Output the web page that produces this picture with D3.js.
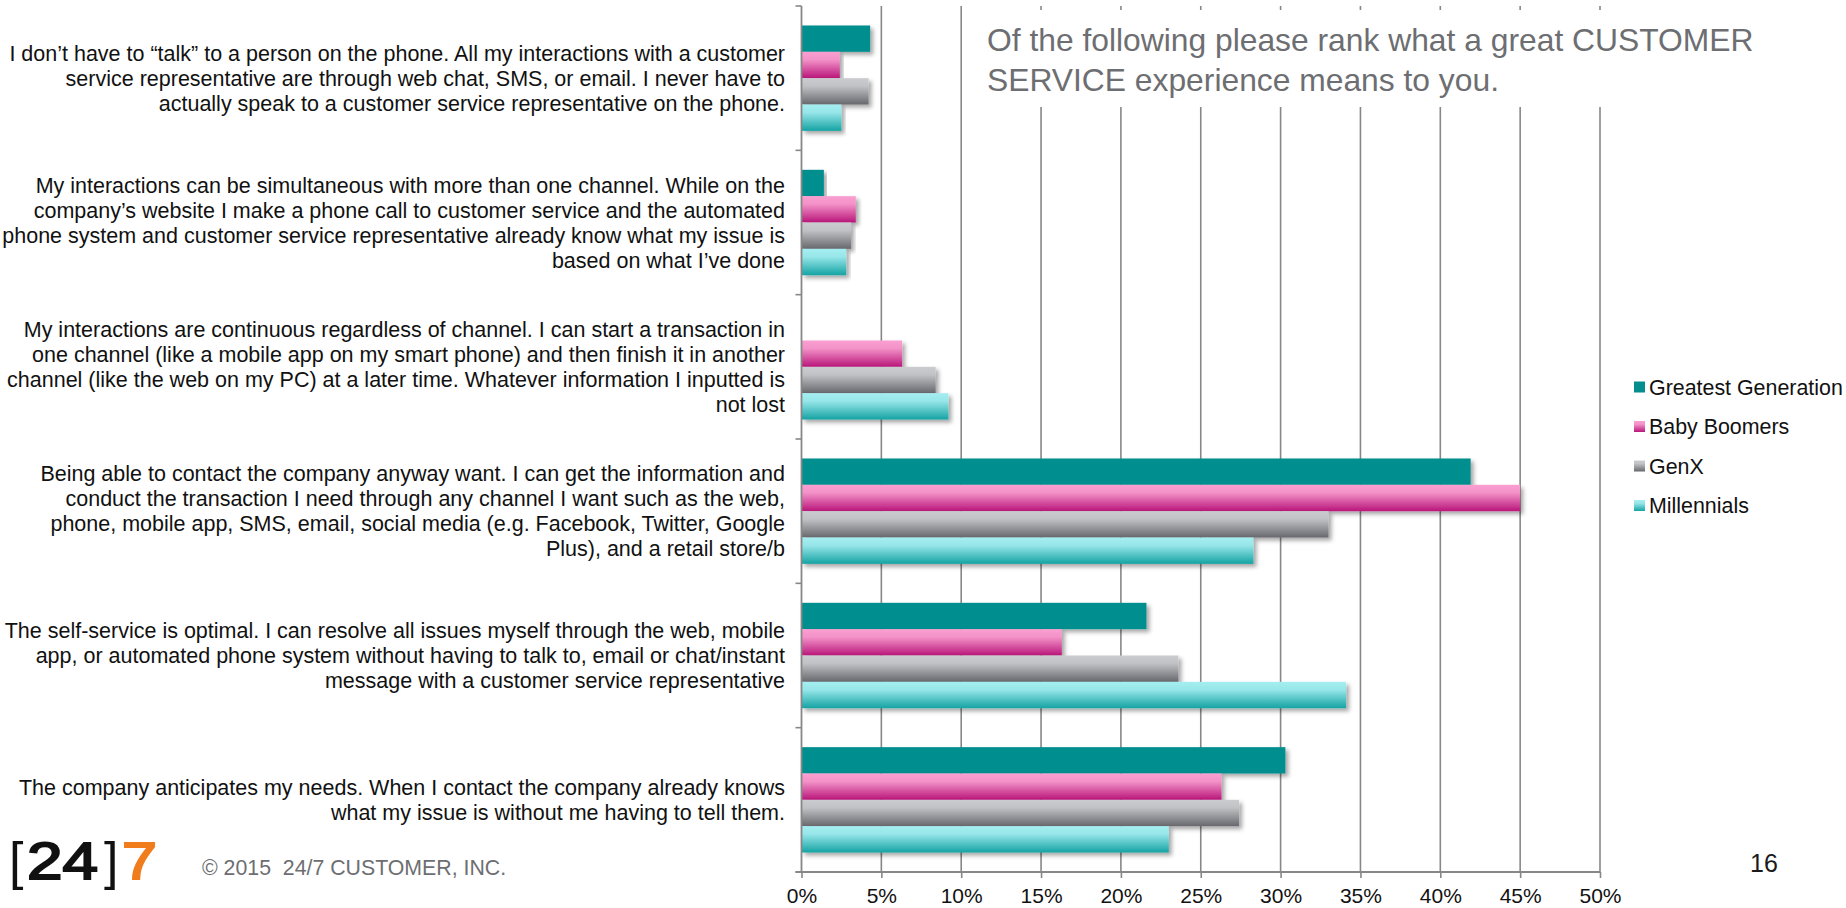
<!DOCTYPE html>
<html>
<head>
<meta charset="utf-8">
<script src="https://cdn.jsdelivr.net/npm/d3@7/dist/d3.min.js"></script>
<style>
  html, body { margin: 0; padding: 0; background: #ffffff; }
  svg { display: block; font-family: "Liberation Sans", Arial, Helvetica, sans-serif; }
</style>
</head>
<body>
<svg id="chart" width="1846" height="908"></svg>
<script>
// Survey answers, top to bottom, with their line breaks
const categories = [
  ["I don\u2019t have to \u201ctalk\u201d to a person on the phone. All my interactions with a customer",
   "service representative are through web chat, SMS, or email. I never have to",
   "actually speak to a customer service representative on the phone."],
  ["My interactions can be simultaneous with more than one channel. While on the",
   "company\u2019s website I make a phone call to customer service and the automated",
   "phone system and customer service representative already know what my issue is",
   "based on what I\u2019ve done"],
  ["My interactions are continuous regardless of channel. I can start a transaction in",
   "one channel (like a mobile app on my smart phone) and then finish it in another",
   "channel (like the web on my PC) at a later time. Whatever information I inputted is",
   "not lost"],
  ["Being able to contact the company anyway want. I can get the information and",
   "conduct the transaction I need through any channel I want such as the web,",
   "phone, mobile app, SMS, email, social media (e.g. Facebook, Twitter, Google",
   "Plus), and a retail store/b"],
  ["The self-service is optimal. I can resolve all issues myself through the web, mobile",
   "app, or automated phone system without having to talk to, email or chat/instant",
   "message with a customer service representative"],
  ["The company anticipates my needs. When I contact the company already knows",
   "what my issue is without me having to tell them."]
];

const seriesNames = ["Greatest Generation", "Baby Boomers", "GenX", "Millennials"];

// Percent of respondents per generation
const greatestGeneration = [4.3, 1.4, 0.0, 41.9, 21.6, 30.3];
const babyBoomers        = [2.4, 3.4, 6.3, 45.0, 16.3, 26.3];
const genX               = [4.2, 3.1, 8.4, 33.0, 23.6, 27.4];
const millennials        = [2.5, 2.8, 9.2, 28.3, 34.1, 23.0];

const xTicks = [0, 5, 10, 15, 20, 25, 30, 35, 40, 45, 50];

const titleLines = ["Of the following please rank what a great CUSTOMER",
                    "SERVICE experience means to you."];

const seriesValues = [greatestGeneration, babyBoomers, genX, millennials];

const svg = d3.select("#chart");
const defs = svg.append("defs");

// Bar fills: solid teal plus three vertical gradients
const fills = [
  { id: "g0", stops: [["0%", "#068e8e"], ["100%", "#068e8e"]] },
  { id: "g1", stops: [["0%", "#fa9fd1"], ["30%", "#f392c8"], ["100%", "#b9167a"]] },
  { id: "g2", stops: [["0%", "#cbcccf"], ["30%", "#c1c2c5"], ["100%", "#67686d"]] },
  { id: "g3", stops: [["0%", "#a4eef1"], ["30%", "#97e6e9"], ["100%", "#15a3a3"]] }
];
fills.forEach(f => {
  const lg = defs.append("linearGradient").attr("id", f.id)
    .attr("x1", 0).attr("y1", 0).attr("x2", 0).attr("y2", 1);
  f.stops.forEach(s => lg.append("stop").attr("offset", s[0]).attr("stop-color", s[1]));
});

const shadow = defs.append("filter").attr("id", "barShadow")
  .attr("x", "-5%").attr("y", "-20%").attr("width", "115%").attr("height", "160%");
shadow.append("feDropShadow").attr("dx", 3).attr("dy", 3)
  .attr("stdDeviation", 2.2).attr("flood-color", "#000").attr("flood-opacity", 0.35);

// Scales
const x = d3.scaleLinear().domain([0, 50]).range([801.5, 1600]);
const y0 = d3.scaleBand().domain(d3.range(categories.length))
  .range([6, 872]).paddingInner(0.27).paddingOuter(0.135);
const y1 = d3.scaleBand().domain(d3.range(seriesNames.length))
  .range([0, y0.bandwidth()]);

const gridColor = "#878787";

// Vertical gridlines
svg.append("g").selectAll("line")
  .data(xTicks.filter(t => t > 0))
  .join("line")
  .attr("x1", d => x(d)).attr("x2", d => x(d))
  .attr("y1", 6).attr("y2", 872)
  .attr("stroke", gridColor).attr("stroke-width", 1.6);

// White panel that holds the question text
svg.append("rect")
  .attr("x", 966).attr("y", 10).attr("width", 800).attr("height", 97)
  .attr("fill", "#ffffff");

svg.append("g").selectAll("text")
  .data(titleLines)
  .join("text")
  .attr("x", 987)
  .attr("y", (d, i) => 51 + i * 40)
  .attr("font-size", 31.8)
  .attr("fill", "#6d6e71")
  .text(d => d);

// Bars
const groups = svg.append("g").selectAll("g")
  .data(categories.map((c, i) => i))
  .join("g")
  .attr("transform", i => `translate(0,${y0(i)})`);

groups.selectAll("rect")
  .data(i => seriesValues.map((vals, s) => ({ s, v: vals[i] })))
  .join("rect")
  .filter(d => d.v > 0)
  .attr("x", x(0))
  .attr("y", d => y1(d.s))
  .attr("width", d => x(d.v) - x(0))
  .attr("height", y1.bandwidth())
  .attr("fill", d => `url(#g${d.s})`)
  .attr("filter", "url(#barShadow)");

// Category axis (left)
const yAxis = svg.append("g");
yAxis.append("line")
  .attr("x1", x(0)).attr("x2", x(0)).attr("y1", 6).attr("y2", 872)
  .attr("stroke", gridColor).attr("stroke-width", 1.8);
const boundaries = d3.range(categories.length + 1).map(i => 6 + i * y0.step());
yAxis.selectAll("line.tick")
  .data(boundaries)
  .join("line").attr("class", "tick")
  .attr("x1", x(0) - 6).attr("x2", x(0))
  .attr("y1", d => d).attr("y2", d => d)
  .attr("stroke", gridColor).attr("stroke-width", 1.6);

// Category labels, right aligned next to the axis
const lineH = 25;
const labels = svg.append("g").attr("font-size", 21.5).attr("fill", "#111");
categories.forEach((lines, i) => {
  const cy = y0(i) + y0.bandwidth() / 2;
  const top = cy - (lines.length - 1) * lineH / 2;
  labels.append("text")
    .attr("text-anchor", "end")
    .selectAll("tspan")
    .data(lines)
    .join("tspan")
    .attr("x", 785)
    .attr("y", (d, k) => top + k * lineH)
    .attr("dy", "0.35em")
    .text(d => d);
});

// Value axis (bottom)
const xAxisG = svg.append("g").attr("transform", "translate(0,872)");
xAxisG.call(d3.axisBottom(x).tickValues(xTicks).tickSize(6).tickPadding(10)
  .tickFormat(d => d + "%"));
xAxisG.select(".domain").remove();
xAxisG.insert("line", ":first-child")
  .attr("x1", x(0) - 6).attr("x2", x(50)).attr("y1", 0).attr("y2", 0)
  .attr("stroke", gridColor).attr("stroke-width", 1.8);
xAxisG.selectAll(".tick line").attr("stroke", gridColor).attr("stroke-width", 1.6);
xAxisG.selectAll(".tick text")
  .attr("font-size", 21).attr("fill", "#111")
  .attr("font-family", "\"Liberation Sans\", Arial, sans-serif");

// Legend
const legend = svg.append("g").selectAll("g")
  .data(seriesNames)
  .join("g")
  .attr("transform", (d, i) => `translate(1634,${387 + i * 39.5})`);
legend.append("rect")
  .attr("x", 0).attr("y", -5.5).attr("width", 11).attr("height", 11)
  .attr("fill", (d, i) => `url(#g${i})`);
legend.append("text")
  .attr("x", 15).attr("y", 0).attr("dy", "0.35em")
  .attr("font-size", 21.4).attr("fill", "#111")
  .text(d => d);

// Footer: logo, copyright and page number
const logo = svg.append("text").attr("y", 879).attr("font-size", 52);
logo.append("tspan").attr("x", 9).attr("fill", "#111").text("[");
logo.append("tspan").attr("x", 27).attr("fill", "#111")
  .attr("stroke", "#111").attr("stroke-width", 2)
  .attr("textLength", 71).attr("lengthAdjust", "spacingAndGlyphs").text("24");
logo.append("tspan").attr("x", 104).attr("fill", "#111").text("]");
logo.append("tspan").attr("x", 122).attr("fill", "#f07c1c")
  .attr("stroke", "#f07c1c").attr("stroke-width", 2)
  .attr("textLength", 35).attr("lengthAdjust", "spacingAndGlyphs").text("7");

svg.append("text")
  .attr("x", 202).attr("y", 875)
  .attr("font-size", 21.3).attr("fill", "#6d6e71")
  .attr("xml:space", "preserve")
  .text("\u00a9 2015  24/7 CUSTOMER, INC.");

svg.append("text")
  .attr("x", 1750).attr("y", 872)
  .attr("font-size", 25).attr("fill", "#1a1a1a")
  .text("16");
</script>
</body>
</html>
